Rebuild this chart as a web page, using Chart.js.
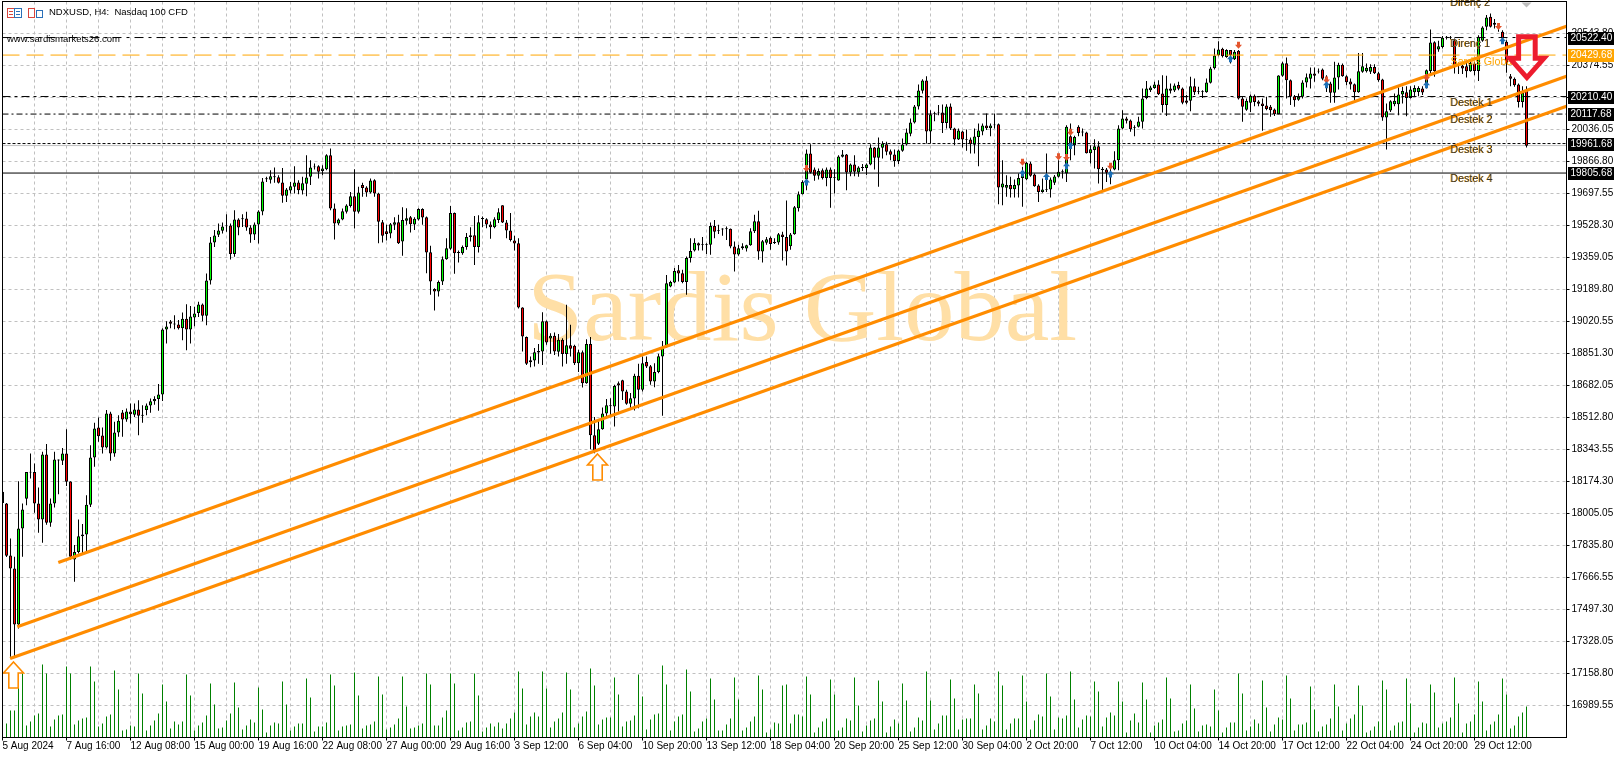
<!DOCTYPE html>
<html>
<head>
<meta charset="utf-8">
<title>NDXUSD H4</title>
<style>
  html, body { margin: 0; padding: 0; background: #fff; }
  canvas { display: block; }
</style>
<script src="https://cdn.jsdelivr.net/npm/chart.js@4"></script>
</head>
<body>
<canvas id="myChart" width="1618" height="765"></canvas>
<script>
// H4 bars
const opens = [
  18120,18058,17783,17714,17418,17926,18083,18222,18224,18058,
  17973,18317,17956,18058,18285,18284,18322,18174,17762,17802,
  17894,17894,18051,18301,18460,18418,18354,18534,18322,18433,
  18539,18502,18545,18527,18555,18528,18552,18576,18599,18610,
  18635,18978,19021,19010,19005,18985,19035,18978,19042,19066,
  19110,19051,19237,19438,19479,19500,19524,19528,19378,19560,
  19567,19565,19518,19481,19534,19602,19773,19770,19784,19784,
  19756,19685,19713,19733,19756,19713,19749,19786,19836,19842,
  19816,19826,19900,19618,19539,19560,19601,19632,19683,19601,
  19742,19729,19703,19768,19697,19546,19498,19486,19532,19546,
  19444,19553,19572,19534,19560,19616,19572,19387,19192,19179,
  19232,19350,19405,19594,19388,19382,19414,19467,19477,19414,
  19563,19562,19534,19519,19558,19636,19544,19502,19449,19435,
  19095,18938,18805,18814,18857,18862,19022,18931,18945,18860,
  18924,18848,18895,18892,18800,18858,18694,18901,18419,18374,
  18451,18534,18572,18571,18694,18710,18650,18585,18613,18733,
  18659,18807,18784,18703,18753,18835,18885,19206,19227,19292,
  19276,19230,19357,19396,19435,19430,19426,19426,19525,19500,
  19507,19509,19511,19417,19375,19419,19407,19424,19498,19551,
  19391,19437,19463,19436,19438,19481,19467,19419,19482,19620,
  19694,19772,19909,19825,19791,19821,19780,19825,19784,19766,
  19892,19904,19809,19851,19809,19833,19833,19851,19941,19886,
  19939,19958,19921,19904,19870,19923,19957,20013,20073,20158,
  20241,20295,20025,20123,20126,20126,20071,20158,20041,19983,
  20025,19985,19983,19955,19997,20025,20057,20043,20063,20064,
  19729,19728,19742,19720,19740,19779,19773,19856,19798,19740,
  19706,19717,19719,19754,19786,19810,19803,20001,19953,20050,
  20025,20020,19911,19927,19948,19828,19824,19800,19824,19874,
  20041,20094,20084,20049,20050,20077,20202,20244,20255,20274,
  20226,20166,20253,20242,20271,20253,20189,20188,20265,20239,
  20235,20233,20283,20360,20429,20463,20420,20456,20408,20452,
  20200,20140,20177,20214,20184,20174,20163,20156,20142,20117,
  20320,20387,20297,20212,20193,20209,20285,20304,20332,20347,
  20353,20282,20279,20230,20311,20378,20318,20290,20276,20233,
  20341,20344,20341,20366,20334,20300,20099,20136,20170,20170,
  20221,20233,20203,20233,20235,20253,20258,20346,20498,20459,
  20473,20521,20525,20508,20375,20373,20371,20344,20385,20346,
  20505,20579,20632,20600,20585,20553,20500,20318,20304,20274,
  20182,20244
];
const highs = [
  18181,18060,17873,17776,18176,18058,18225,18322,18270,18143,
  18331,18372,18084,18331,18291,18352,18451,18175,17838,17973,
  17949,18102,18366,18485,18513,18460,18552,18543,18490,18525,
  18552,18560,18587,18587,18604,18578,18587,18613,18625,18690,
  18985,19022,19028,19054,19028,19068,19112,19102,19098,19125,
  19116,19274,19468,19504,19539,19544,19588,19539,19609,19567,
  19588,19601,19530,19544,19609,19780,19786,19821,19835,19794,
  19833,19727,19759,19842,19768,19786,19900,19874,19856,19847,
  19847,19905,19935,19645,19565,19618,19641,19706,19826,19733,
  19754,19736,19777,19773,19701,19558,19532,19541,19572,19585,
  19625,19620,19579,19572,19620,19620,19576,19421,19197,19237,
  19364,19461,19632,19597,19396,19423,19488,19519,19579,19583,
  19576,19567,19549,19572,19620,19636,19558,19594,19474,19461,
  19096,18941,18835,18880,18901,19070,19026,18959,18962,18955,
  18932,19109,19003,18897,18871,18867,18927,18938,18515,18500,
  18566,18610,18615,18686,18703,18712,18659,18642,18744,18797,
  18835,18835,18791,18800,18850,18918,19267,19236,19303,19320,
  19294,19364,19461,19461,19438,19467,19435,19544,19558,19532,
  19514,19523,19512,19444,19426,19435,19426,19514,19585,19606,
  19452,19467,19470,19461,19488,19495,19661,19488,19632,19708,
  19768,19930,19958,19835,19830,19830,19835,19835,19826,19900,
  19927,19907,19856,19900,19842,19853,19856,19958,19944,19994,
  19974,19971,19930,19930,19930,19988,20041,20094,20165,20274,
  20302,20318,20138,20130,20165,20168,20170,20174,20045,20041,
  20029,20036,19994,20041,20068,20068,20121,20068,20121,20068,
  19874,19794,19786,19772,19803,19839,19865,19865,19803,19747,
  19777,19909,19782,19795,19874,19825,20059,20068,20003,20059,
  20041,20024,19953,19985,19974,19838,19833,19838,19921,20059,
  20138,20103,20089,20059,20103,20253,20292,20267,20288,20297,
  20323,20320,20279,20279,20288,20258,20218,20315,20306,20262,
  20244,20306,20368,20464,20503,20468,20461,20456,20456,20456,
  20212,20200,20221,20221,20191,20200,20209,20165,20147,20323,
  20394,20417,20300,20218,20226,20297,20332,20364,20364,20359,
  20359,20323,20288,20394,20389,20385,20323,20306,20279,20441,
  20441,20385,20381,20381,20341,20304,20173,20191,20226,20258,
  20262,20265,20265,20270,20265,20265,20353,20565,20503,20505,
  20530,20530,20530,20517,20390,20385,20394,20394,20394,20535,
  20582,20641,20649,20620,20597,20561,20508,20329,20311,20279,
  20265,20265
];
const lows = [
  18058,17775,17247,17247,17397,17776,18049,18190,18009,17903,
  17850,17945,17935,18037,18107,18261,18150,17762,17644,17794,
  17794,17802,18040,18252,18384,18322,18349,18284,18305,18411,
  18411,18490,18481,18516,18419,18485,18525,18538,18580,18548,
  18600,18904,18985,18980,18978,18922,18869,18904,18996,19045,
  19022,19001,19216,19415,19468,19486,19495,19348,19363,19477,
  19521,19500,19437,19451,19433,19583,19759,19750,19754,19750,
  19648,19653,19697,19697,19694,19692,19683,19742,19824,19777,
  19794,19821,19609,19454,19530,19556,19592,19623,19512,19592,
  19680,19680,19697,19680,19435,19438,19449,19461,19505,19431,
  19368,19532,19491,19505,19555,19532,19276,19162,19079,19153,
  19214,19347,19400,19273,19333,19373,19400,19444,19320,19385,
  19519,19514,19458,19514,19541,19541,19461,19444,19396,19089,
  18862,18791,18779,18783,18797,18791,18897,18850,18844,18835,
  18783,18797,18835,18791,18754,18671,18691,18345,18324,18368,
  18448,18518,18518,18465,18545,18606,18580,18562,18550,18562,
  18650,18774,18686,18673,18747,18522,18880,19202,19223,19232,
  19223,19162,19333,19391,19396,19396,19378,19373,19461,19484,
  19474,19452,19408,19285,19368,19400,19391,19421,19488,19347,
  19333,19426,19400,19431,19426,19343,19317,19400,19479,19602,
  19692,19715,19803,19765,19772,19772,19736,19622,19698,19765,
  19888,19715,19789,19789,19786,19817,19795,19847,19825,19733,
  19883,19900,19874,19839,19853,19918,19951,20001,20068,20142,
  20226,19962,19962,20080,20112,20018,20041,20033,19953,19980,
  19941,19923,19909,19909,19842,20006,20033,20001,20041,19641,
  19636,19680,19676,19676,19676,19627,19768,19786,19733,19653,
  19701,19706,19676,19742,19782,19777,19759,19874,19900,20001,
  20001,19909,19856,19830,19750,19715,19759,19747,19821,19821,
  20038,20068,20024,20001,20047,20041,20196,20235,20251,20218,
  20126,20107,20226,20235,20244,20170,20170,20133,20218,20223,
  20203,20230,20279,20353,20424,20417,20415,20385,20403,20195,
  20077,20135,20129,20159,20159,20029,20138,20103,20107,20117,
  20315,20200,20165,20156,20188,20200,20258,20253,20288,20332,
  20297,20235,20177,20177,20247,20315,20270,20247,20182,20230,
  20336,20337,20329,20329,20288,20082,19930,20129,20159,20112,
  20173,20106,20200,20212,20212,20218,20253,20323,20315,20447,
  20464,20512,20512,20332,20329,20329,20311,20341,20323,20293,
  20500,20561,20575,20570,20553,20508,20336,20265,20262,20152,
  20152,19941
];
const closes = [
  18060,17781,17714,17418,17926,18026,18224,18226,18058,17973,
  18317,17956,18058,18291,18290,18322,18173,17776,17802,17885,
  17885,18051,18301,18455,18414,18354,18534,18322,18433,18495,
  18502,18545,18530,18555,18522,18522,18576,18599,18610,18635,
  18978,18994,19008,19005,18985,19035,18978,19047,19063,19110,
  19051,19237,19438,19475,19502,19523,19528,19378,19560,19518,
  19562,19518,19481,19534,19602,19761,19778,19789,19789,19754,
  19685,19719,19736,19756,19715,19752,19782,19835,19841,19812,
  19830,19900,19618,19539,19560,19604,19634,19683,19601,19703,
  19727,19703,19766,19697,19548,19474,19484,19535,19546,19435,
  19558,19567,19535,19564,19616,19571,19385,19232,19179,19229,
  19350,19408,19594,19382,19383,19414,19467,19477,19414,19546,
  19568,19534,19519,19562,19599,19544,19502,19452,19433,19095,
  18941,18797,18816,18858,18865,19022,18910,18945,18862,18924,
  18848,18895,18876,18800,18858,18694,18901,18419,18333,18451,
  18534,18578,18577,18679,18682,18650,18585,18615,18733,18659,
  18800,18783,18703,18753,18837,18885,19223,19229,19287,19274,
  19230,19357,19393,19437,19423,19426,19430,19525,19495,19505,
  19512,19514,19417,19375,19408,19408,19424,19498,19551,19391,
  19445,19456,19431,19441,19482,19467,19391,19481,19625,19694,
  19759,19909,19807,19791,19817,19780,19825,19780,19780,19893,
  19904,19809,19851,19812,19835,19838,19851,19941,19886,19941,
  19962,19918,19902,19870,19925,19957,20020,20073,20158,20242,
  20295,20025,20115,20119,20122,20071,20158,20041,19983,20031,
  19983,19981,19958,19999,20031,20057,20043,20057,20059,19729,
  19750,19742,19720,19742,19779,19803,19860,19791,19736,19706,
  19719,19722,19772,19788,19812,19815,20050,19953,19997,20018,
  20020,19911,19932,19948,19826,19822,19807,19812,19874,20041,
  20094,20082,20038,20045,20078,20200,20253,20258,20274,20223,
  20165,20253,20241,20269,20251,20177,20177,20265,20233,20235,
  20239,20285,20359,20427,20459,20424,20456,20429,20447,20200,
  20156,20188,20214,20182,20172,20161,20145,20138,20117,20322,
  20387,20297,20209,20191,20209,20285,20313,20332,20320,20343,
  20304,20275,20230,20311,20378,20318,20286,20274,20233,20344,
  20371,20362,20366,20334,20297,20099,20133,20186,20188,20221,
  20240,20203,20248,20255,20256,20232,20350,20496,20346,20477,
  20521,20526,20521,20376,20380,20359,20344,20389,20346,20526,
  20575,20628,20579,20590,20575,20517,20385,20304,20270,20182,
  20230,19950
];
// tick volume
const volumes = [
  8,14,27,27,67,64,12,16,22,24,
  73,64,11,18,22,23,71,64,13,17,
  19,20,71,56,11,14,21,23,67,48,
  7,8,12,11,64,44,7,12,17,24,
  53,36,9,16,13,16,63,42,7,12,
  15,22,54,33,9,10,17,24,55,30,
  8,12,18,15,50,28,5,12,15,14,
  56,33,7,11,14,14,59,40,6,11,
  11,15,63,52,7,11,12,13,65,42,
  9,12,13,16,61,43,8,10,13,19,
  61,31,9,10,12,14,64,53,12,12,
  20,27,64,54,7,10,15,16,64,42,
  6,10,14,11,15,9,14,19,25,66,
  49,13,21,25,21,66,49,10,16,19,
  25,65,48,10,14,21,26,69,52,13,
  18,20,20,60,43,11,16,17,22,63,
  41,8,18,23,24,72,53,7,16,21,
  23,68,46,6,9,16,19,59,38,7,
  7,13,19,60,38,7,10,16,21,62,
  48,5,8,15,14,52,53,14,23,23,
  21,61,43,5,10,16,19,58,43,7,
  10,19,17,60,32,6,12,17,19,57,
  36,5,11,18,14,54,37,6,10,20,
  17,66,37,8,14,22,22,58,39,8,
  18,19,19,53,44,8,12,19,16,66,
  52,8,14,19,19,62,36,8,17,23,
  21,64,41,8,20,19,22,66,38,10,
  18,22,21,56,46,11,20,25,22,56,
  36,5,17,24,15,55,38,5,12,15,
  18,60,39,6,7,14,17,53,29,6,
  12,13,11,48,27,5,10,15,15,64,
  44,7,11,18,14,57,30,6,13,20,
  18,62,39,7,13,13,15,51,28,6,
  11,13,19,53,31,7,14,19,23,52,
  32,5,7,11,16,57,48,7,12,15,
  16,59,34,5,10,15,14,53,45,10,
  14,16,20,60,34,5,14,16,23,56,
  36,7,13,16,23,59,43,9,12,21,
  25,31
];
const xTickLabels = [
  "5 Aug 2024","7 Aug 16:00","12 Aug 08:00","15 Aug 00:00","19 Aug 16:00","22 Aug 08:00",
  "27 Aug 00:00","29 Aug 16:00","3 Sep 12:00","6 Sep 04:00","10 Sep 20:00","13 Sep 12:00",
  "18 Sep 04:00","20 Sep 20:00","25 Sep 12:00","30 Sep 04:00","2 Oct 20:00","7 Oct 12:00",
  "10 Oct 04:00","14 Oct 20:00","17 Oct 12:00","22 Oct 04:00","24 Oct 20:00","29 Oct 12:00"
];
const priceTicks = [
  20543.80,20374.55,20205.30,20036.05,19866.80,19697.55,19528.30,19359.05,19189.80,19020.55,18851.30,
  18682.05,18512.80,18343.55,18174.30,18005.05,17835.80,17666.55,17497.30,17328.05,17158.80,16989.55
];
// horizontal levels: value, colour, dash
const levelValues = [20522.40, 20429.68, 20210.40, 20117.68, 19961.68, 19805.68];
const levelColors = ["#000", "#ffa500", "#000", "#000", "#000", "#000"];
const levelDashes = [[9,5,3,5], [17,7], [8,4,3,4], [6,3,2,3], [3,2], []];
const bidPrice = 19951;
// channel lines: [bar, price] at both ends
const trendLines = [
  [[13.95, 17746], [391, 20582.6]],
  [[3.7, 17405.5], [391, 20318.1]],
  [[1.9, 17238.3], [391, 20159.4]]
];
// support / resistance captions: text, price
const captionTexts = ["Direnç 2", "Direnç 1", "Destek 1", "Destek 2", "Destek 3", "Destek 4"];
const captionPrices = [20705, 20488, 20176, 20086, 19928, 19774];
const captionBar = 362;
// deal arrows: bar, price
const sellBars = [201,255,264,266,267,277,309,331,356,374];
const sellPrices = [19833,19865,19895,19891,20024,19844,20484,20301,20314,20583];
const buyBars = [201,255,261,266,267,277,307,331,356,375];
const buyPrices = [19756,19803,19785,19842,19949,19798,20408,20270,20270,20503];
const upArrowBars = [2.75, 148.75];
const upArrowPrices = [17220, 18320];
const bigArrowBar = 381.1;
const bigArrowPrice = 20526;

const UP = "#00ff00", DOWN = "#ff0000";
const BARS_MAX = 391;

const overlay = {
  id: "overlay",
  beforeDatasetsDraw(chart) {
    const c = chart.ctx;
    c.save();
    c.fillStyle = "#ffdfa6";
    c.font = "100.5px 'Liberation Serif'";
    c.textAlign = "left";
    c.textBaseline = "alphabetic";
    c.fillText("Sardis Global", chart.scales.x.getPixelForValue(131.2), chart.scales.y.getPixelForValue(18922));
    c.restore();
  },
  afterDatasetsDraw(chart) {
    const c = chart.ctx, X = chart.scales.x, Y = chart.scales.y, a = chart.chartArea;
    c.save();

    // captions
    c.font = "10.7px 'Liberation Sans'";
    c.textBaseline = "middle";
    c.textAlign = "left";
    captionTexts.forEach((t, i) => {
      const x = X.getPixelForValue(captionBar), y = Y.getPixelForValue(captionPrices[i]);
      c.fillStyle = "#ffa500";
      c.fillText(t, x - 0.7, y);
      c.fillStyle = "#333";
      c.fillText(t, x, y);
    });
    c.fillStyle = "#ffa500";
    c.fillText("Sardis Global", X.getPixelForValue(362), Y.getPixelForValue(20393));

    // deal arrows
    const smallArrow = (x, y, dir, col) => {
      c.fillStyle = col;
      c.beginPath();
      c.moveTo(x, y + 4 * dir);
      c.lineTo(x - 3.5, y);
      c.lineTo(x - 1.5, y);
      c.lineTo(x - 1.5, y - 3 * dir);
      c.lineTo(x + 1.5, y - 3 * dir);
      c.lineTo(x + 1.5, y);
      c.lineTo(x + 3.5, y);
      c.closePath();
      c.fill();
    };
    sellBars.forEach((b, i) => smallArrow(X.getPixelForValue(b), Y.getPixelForValue(sellPrices[i]), 1, "#e4542c"));
    buyBars.forEach((b, i) => smallArrow(X.getPixelForValue(b), Y.getPixelForValue(buyPrices[i]), -1, "#1c6fb5"));

    // hollow up arrows
    upArrowBars.forEach((b, i) => {
      const x = X.getPixelForValue(b), y = Y.getPixelForValue(upArrowPrices[i]);
      c.strokeStyle = "#ff8c00";
      c.lineWidth = 1.6;
      c.fillStyle = "#fff";
      c.beginPath();
      c.moveTo(x, y);
      c.lineTo(x + 10, y + 11);
      c.lineTo(x + 4.7, y + 11);
      c.lineTo(x + 4.7, y + 26);
      c.lineTo(x - 4.7, y + 26);
      c.lineTo(x - 4.7, y + 11);
      c.lineTo(x - 10, y + 11);
      c.closePath();
      c.fill();
      c.stroke();
    });

    // big red arrow
    const bx = X.getPixelForValue(bigArrowBar), by = Y.getPixelForValue(bigArrowPrice);
    c.strokeStyle = "#ed1c2e";
    c.lineWidth = 5;
    c.lineJoin = "miter";
    c.beginPath();
    c.moveTo(bx - 8.3, by);
    c.lineTo(bx + 8.3, by);
    c.lineTo(bx + 8.3, by + 21.5);
    c.lineTo(bx + 17, by + 21.5);
    c.lineTo(bx, by + 40.7);
    c.lineTo(bx - 17, by + 21.5);
    c.lineTo(bx - 8.3, by + 21.5);
    c.closePath();
    c.stroke();

    // chart frame
    c.strokeStyle = "#000";
    c.lineWidth = 1;
    c.strokeRect(a.left, a.top, a.right - a.left, a.bottom - a.top);

    // last bar marker on top edge
    const tx = X.getPixelForValue(381);
    c.fillStyle = "#bdbdbd";
    c.beginPath();
    c.moveTo(tx - 5, a.top + 1);
    c.lineTo(tx + 5, a.top + 1);
    c.lineTo(tx, a.top + 6);
    c.closePath();
    c.fill();

    // level boxes on price axis
    c.font = "10px 'Liberation Sans'";
    levelValues.forEach((v, i) => {
      const y = Math.round(Y.getPixelForValue(v));
      c.fillStyle = levelColors[i];
      c.fillRect(a.right + 1.5, y - 6, 46, 13);
      c.fillStyle = "#fff";
      c.fillText(v.toFixed(2), a.right + 4, y + 0.5);
    });
    c.restore();

    // header texts
    c.save();
    c.textBaseline = "middle";
    c.textAlign = "left";
    c.font = "9.5px 'Liberation Sans'";
    c.fillStyle = "#000";
    c.fillText("NDXUSD, H4:  Nasdaq 100 CFD", 49, 12.5);
    c.fillText("www.sardismarkets26.com", 7, 39);
    // the two terminal icons
    c.lineWidth = 1;
    c.strokeStyle = "#d8453c";
    c.strokeRect(7.5, 8.5, 7, 9);
    c.strokeRect(28.5, 8.5, 6, 9);
    c.strokeStyle = "#2a70b8";
    c.strokeRect(14.5, 8.5, 7, 9);
    c.strokeRect(36.5, 10.5, 6, 7);
    c.fillStyle = "#d8453c";
    c.fillRect(9, 11, 4, 1);
    c.fillRect(9, 14, 4, 1);
    c.fillStyle = "#2a70b8";
    c.fillRect(16, 11, 4, 1);
    c.fillRect(16, 14, 4, 1);
    c.restore();
  }
};

const barIdx = opens.map((v, i) => i);

const datasets = [];
// volumes
datasets.push({
  type: "bar",
  yAxisID: "yVol",
  data: barIdx.map(i => ({ x: i, y: volumes[i] })),
  backgroundColor: "#008000",
  barThickness: 1,
  inflateAmount: 0,
  grouped: false,
  order: 9
});
// wicks
datasets.push({
  type: "bar",
  data: barIdx.map(i => ({ x: i, y: [lows[i], highs[i]] })),
  backgroundColor: "#000",
  barThickness: 1,
  inflateAmount: 0,
  grouped: false,
  order: 7
});
// bodies
datasets.push({
  type: "bar",
  data: barIdx.map(i => ({ x: i, y: [opens[i], closes[i]] })),
  backgroundColor: barIdx.map(i => closes[i] >= opens[i] ? UP : DOWN),
  borderColor: "#000",
  borderWidth: 1,
  borderSkipped: false,
  barThickness: 3,
  inflateAmount: 0,
  grouped: false,
  order: 6
});
// bid line and levels
datasets.push({
  type: "line",
  data: [{ x: 0, y: bidPrice }, { x: BARS_MAX, y: bidPrice }],
  borderColor: "#c0c0c0",
  borderWidth: 1,
  pointRadius: 0,
  order: 8
});
levelValues.forEach((v, i) => {
  datasets.push({
    type: "line",
    data: [{ x: 0, y: v }, { x: BARS_MAX, y: v }],
    borderColor: levelColors[i],
    borderDash: levelDashes[i],
    borderWidth: 1,
    pointRadius: 0,
    order: 5
  });
});
// channel
trendLines.forEach(t => {
  datasets.push({
    type: "line",
    data: t.map(p => ({ x: p[0], y: p[1] })),
    borderColor: "#ff8c00",
    borderWidth: 3.2,
    pointRadius: 0,
    order: 2
  });
});

new Chart(document.getElementById("myChart").getContext("2d"), {
  data: { datasets },
  plugins: [overlay],
  options: {
    responsive: false,
    animation: false,
    devicePixelRatio: 1,
    layout: { padding: { left: 2.5, top: 1.5, right: 0, bottom: 0 } },
    plugins: { legend: { display: false }, tooltip: { enabled: false } },
    scales: {
      x: {
        type: "linear",
        offset: false,
        min: 0,
        max: BARS_MAX,
        afterBuildTicks: axis => {
          const t = [];
          for (let v = 0; v <= 384; v += 8) t.push({ value: v });
          axis.ticks = t;
        },
        afterFit: s => { s.height = 27.5; s.paddingLeft = 0; s.paddingRight = 0; },
        grid: {
          offset: false,
          color: "#c0c0c0",
          tickLength: 3,
          tickColor: ctx => (ctx.tick && ctx.tick.value % 16 === 0) ? "#000" : "rgba(0,0,0,0)"
        },
        border: { color: "#000", dash: [3, 3] },
        ticks: {
          autoSkip: false,
          maxRotation: 0,
          minRotation: 0,
          align: "start",
          padding: 0,
          color: "#000",
          font: { family: "'Liberation Sans'", size: 10 },
          callback: v => v % 16 === 0 ? xTickLabels[v / 16] : ""
        }
      },
      y: {
        position: "right",
        min: 16820.3,
        max: 20713.05,
        afterBuildTicks: axis => { axis.ticks = priceTicks.map(v => ({ value: v })); },
        afterFit: s => { s.width = 51.5; s.paddingTop = 0; s.paddingBottom = 0; },
        grid: { color: "#c0c0c0", tickLength: 3, tickColor: "#000" },
        border: { color: "#000", dash: [3, 3] },
        ticks: {
          autoSkip: false,
          padding: 2,
          color: "#000",
          font: { family: "'Liberation Sans'", size: 10 },
          callback: v => v.toFixed(2)
        }
      },
      yVol: { display: false, min: 0, max: 736 }
    }
  }
});
</script>
</body>
</html>
